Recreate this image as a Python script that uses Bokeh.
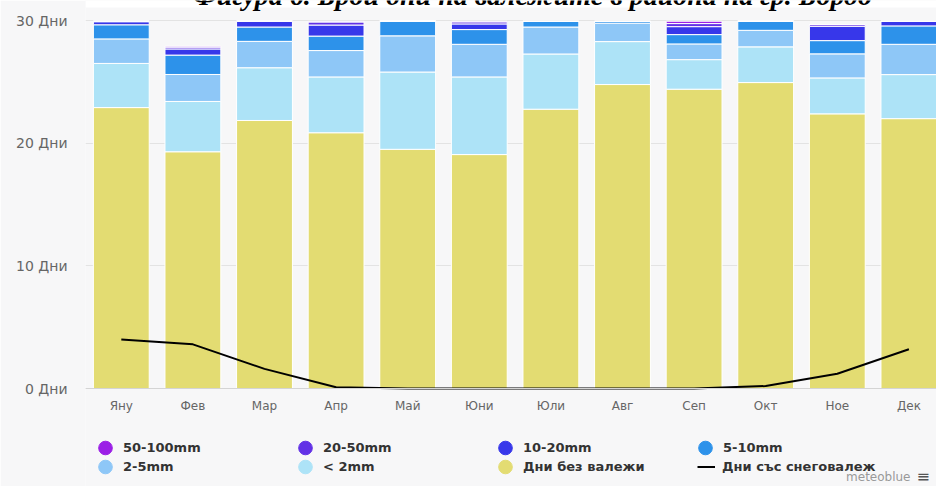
from bokeh.plotting import figure
from bokeh.models import ColumnDataSource, Range1d, FixedTicker, Legend, LegendItem, Label, BoxAnnotation
from bokeh.embed import file_html
from bokeh.resources import INLINE

months = ["Яну", "Фев", "Мар", "Апр", "Май", "Юни", "Юли", "Авг", "Сеп", "Окт", "Ное", "Дек"]
dry = [22.9, 19.3, 21.85, 20.85, 19.5, 19.07, 22.77, 24.78, 24.4, 24.94, 22.39, 22.0]
lt2 = [3.6, 4.1, 4.3, 4.55, 6.3, 6.33, 4.5, 3.5, 2.41, 2.91, 2.93, 3.59]
mm2_5 = [2.0, 2.2, 2.15, 2.15, 2.95, 2.66, 2.2, 1.5, 1.28, 1.35, 1.96, 2.47]
mm5_10 = [1.15, 1.58, 1.17, 1.18, 1.2, 1.2, 0.46, 0.15, 0.76, 0.74, 1.08, 1.5]
mm10_20 = [0.25, 0.5, 0.45, 0.9, 0.0, 0.46, 0.0, 0.0, 0.65, 0.0, 1.17, 0.38]
mm20_50 = [0.05, 0.15, 0.05, 0.25, 0.0, 0.17, 0.0, 0.0, 0.25, 0.0, 0.14, 0.0]
mm50_100 = [0.0, 0.07, 0.0, 0.05, 0.0, 0.05, 0.0, 0.0, 0.19, 0.0, 0.0, 0.0]
snow = [4.0, 3.6, 1.6, 0.1, 0.0, 0.0, 0.0, 0.0, 0.0, 0.2, 1.2, 3.2]
y_ticks = [0, 10, 20, 30]
y_tick_labels = ["0 Дни", "10 Дни", "20 Дни", "30 Дни"]

series_keys = ["dry", "lt2", "mm2_5", "mm5_10", "mm10_20", "mm20_50", "mm50_100"]
series_names = ["Дни без валежи", "< 2mm", "2-5mm", "5-10mm", "10-20mm", "20-50mm", "50-100mm"]
colors = ["#e3dc72", "#ade3f7", "#8ec7f7", "#2d92ea", "#3737ea", "#6231e6", "#9b1fe6"]

x = list(range(len(months)))
src = ColumnDataSource(dict(x=x, dry=dry, lt2=lt2, mm2_5=mm2_5, mm5_10=mm5_10,
                            mm10_20=mm10_20, mm20_50=mm20_50, mm50_100=mm50_100, snow=snow))

W, H = 936, 486
PX_PER_DAY = 368 / 30.0   # 30 days between y=20 and y=388 px
Y0_PX = 388               # pixel row of 0 days
BG = "#f7f7f8"
p = figure(width=W, height=H, output_backend="svg", toolbar_location=None,
           x_range=Range1d(-0.5, -0.5 + (W - 85) / 71.6),
           y_range=Range1d((Y0_PX - H) / PX_PER_DAY, Y0_PX / PX_PER_DAY),
           min_border_left=85, min_border_right=0, min_border_top=0, min_border_bottom=0,
           background_fill_color=BG, border_fill_color=BG, outline_line_color=None)

# white band behind the (cropped) title
p.add_layout(BoxAnnotation(bottom=H - 7, bottom_units="screen", fill_color="white",
                           fill_alpha=1, line_color=None))

bars = p.vbar_stack(series_keys, x="x", width=0.78, source=src, color=colors,
                    line_color="white", line_width=1)
snow_r = p.line("x", "snow", source=src, line_color="black", line_width=2)

# axes
p.xaxis.fixed_location = 0
p.xaxis.ticker = FixedTicker(ticks=x)
p.xaxis.major_label_overrides = {i: m for i, m in zip(x, months)}
p.yaxis.ticker = FixedTicker(ticks=y_ticks)
p.yaxis.major_label_overrides = {t: l for t, l in zip(y_ticks, y_tick_labels)}
for ax in (p.xaxis, p.yaxis):
    ax.major_tick_line_color = None
    ax.minor_tick_line_color = None
    ax.major_tick_out = 0
    ax.major_tick_in = 0
    ax.major_label_text_color = "#666666"
    ax.major_label_text_font = "DejaVu Sans"
p.xaxis.major_label_text_font_size = "12px"
p.yaxis.major_label_text_font_size = "14px"
p.xaxis.axis_line_color = "#d4d4d4"
p.yaxis.axis_line_color = None
p.xaxis.major_label_standoff = 10
p.yaxis.major_label_standoff = 18
p.xgrid.grid_line_color = None
p.ygrid.grid_line_color = "#e3e3e3"

# hidden circle renderers that only supply the legend markers
dummies = {}
for k, c in zip(series_keys, colors):
    dummies[k] = p.scatter(x="x", y=k, source=src, marker="circle", fill_color=c,
                           line_color=c, visible=False)


def add_legend(items, loc, gw, standoff):
    lg = Legend(items=items, location=loc, orientation="horizontal",
                glyph_width=gw, glyph_height=35, label_height=35,
                label_standoff=standoff, label_width=165, spacing=0,
                padding=0, margin=0, background_fill_alpha=0, border_line_alpha=0,
                label_text_font="DejaVu Sans", label_text_font_style="bold",
                label_text_font_size="13px", label_text_color="#333333",
                click_policy="none")
    p.add_layout(lg)


GW = 34
row1 = [LegendItem(label=series_names[i], renderers=[dummies[series_keys[i]]]) for i in (6, 5, 4, 3)]
row2 = [LegendItem(label=series_names[i], renderers=[dummies[series_keys[i]]]) for i in (2, 1, 0)]
add_legend(row1, (105 - GW / 2 - 85, H - 447 - 17.5), GW, 1)
add_legend(row2, (105 - GW / 2 - 85, H - 466.5 - 17.5), GW, 1)
add_legend([LegendItem(label="Дни със снеговалеж", renderers=[snow_r])], (697 - 85, H - 466.5 - 17.5), 18, 7)

p.add_layout(Label(x=910 - 85, y=H - 476, x_units="screen", y_units="screen", text="meteoblue",
                   text_align="right", text_baseline="middle", text_font="DejaVu Sans",
                   text_font_size="12px", text_color="#999999"))
p.add_layout(Label(x=916 - 85, y=H - 476, x_units="screen", y_units="screen", text="≡",
                   text_align="left", text_baseline="middle", text_font="DejaVu Sans",
                   text_font_size="16px", text_color="#555555"))
p.add_layout(Label(x=532 - 85, y=H + 5, x_units="screen", y_units="screen",
                   text="Фигура 6. Брой дни на валежите в района на гр. Бордо",
                   text_align="center", text_baseline="alphabetic", text_font="Liberation Serif",
                   text_font_style="bold italic", text_font_size="28px", text_color="black"))

open("out.html", "w").write(file_html(p, INLINE))
